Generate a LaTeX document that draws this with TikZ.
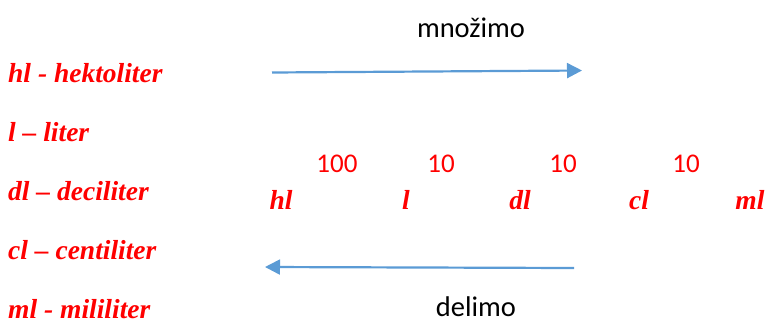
\documentclass[tikz,border=0pt]{standalone}
\usepackage{fontspec}
\setmainfont{Carlito}
\newfontfamily\redfont{Liberation Serif}
\usetikzlibrary{arrows.meta}
\definecolor{arrowblue}{RGB}{91,155,213}
\begin{document}
\begin{tikzpicture}[x=1pt,y=-1pt,
  lbl/.style={red, font=\redfont\bfseries\itshape\fontsize{27.5}{30}\selectfont, anchor=base west, inner sep=0pt},
  unit/.style={red, font=\redfont\bfseries\itshape\fontsize{27.5}{30}\selectfont, anchor=base, inner sep=0pt},
  num/.style={red, font=\fontsize{27}{30}\selectfont, anchor=base, inner sep=0pt},
  word/.style={black, font=\fontsize{28.5}{30}\selectfont, anchor=base, inner sep=0pt},
  arr/.style={draw=arrowblue, line width=2.2pt, -{Triangle[length=15pt,width=15pt]}}]
\useasboundingbox (0,0) rectangle (768,322);
% left legend
\node[lbl] (L1) at (8,82) {hl - hektoliter};
\node[lbl] (L2) at (8,141) {l – liter};
\node[lbl] (L3) at (8,200) {dl – deciliter};
\node[lbl] (L4) at (8,259) {cl – centiliter};
\node[lbl] (L5) at (8,318) {ml - mililiter};
% top arrow
\node[word] (mn) at (471,37) {množimo};
\coordinate (a1s) at (272,72.5);
\coordinate (a1e) at (582,70.5);
\draw[arr] (a1s) -- (a1e);
% numbers
\node[num] (n1) at (337,172) {100};
\node[num] (n2) at (441,172) {10};
\node[num] (n3) at (563,172) {10};
\node[num] (n4) at (686,172) {10};
% units
\node[unit] (u1) at (281,209) {hl};
\node[unit] (u2) at (406,209) {l};
\node[unit] (u3) at (520,209) {dl};
\node[unit] (u4) at (639,209) {cl};
\node[unit] (u5) at (750,209) {ml};
% bottom arrow
\coordinate (a2s) at (574,268);
\coordinate (a2e) at (265,267);
\draw[arr] (a2s) -- (a2e);
\node[word] (de) at (476,316) {delimo};
\end{tikzpicture}
\end{document}
